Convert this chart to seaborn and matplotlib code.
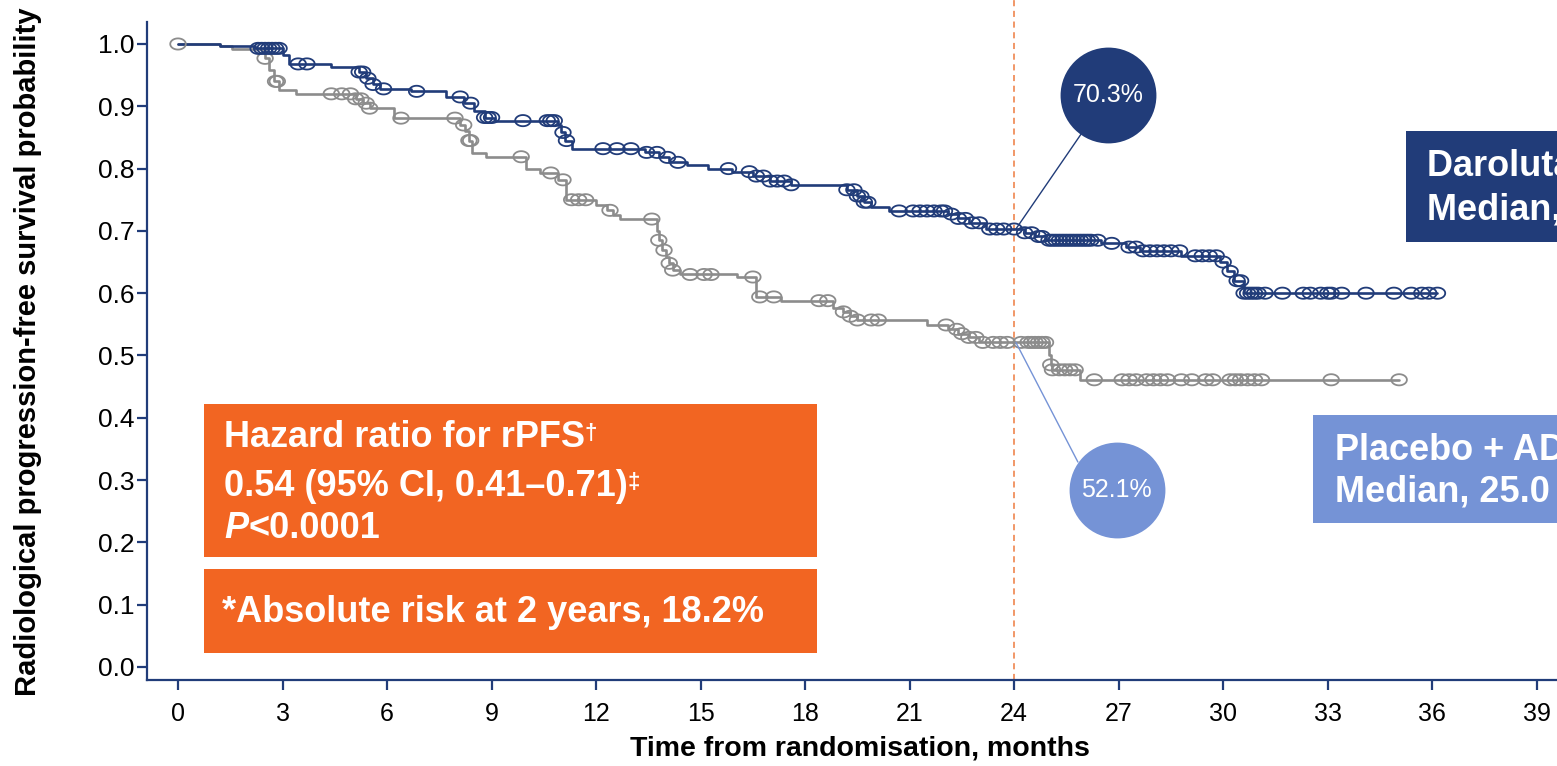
import numpy as np
import pandas as pd
import matplotlib
matplotlib.use("Agg")
import matplotlib.pyplot as plt
from matplotlib.path import Path
from matplotlib.patches import Rectangle
import seaborn as sns

# Darolutamide + ADT: step times and survival after each step
dar_times = [0, 1.2, 2.2, 3.0, 3.2, 4.4, 5.2, 5.4, 5.6, 5.8, 6.7, 7.7, 8.2, 8.5, 8.8, 9.1,
             10.9, 11.0, 11.1, 11.3, 13.4, 13.8, 14.1, 14.6, 15.2, 15.9, 16.5, 17.0, 17.6,
             19.2, 19.5, 19.7, 19.9, 20.4, 22.1, 22.4, 22.7, 23.2, 24.3, 24.6, 24.9, 26.5,
             27.2, 27.6, 28.8, 29.9, 30.1, 30.3, 30.6]
dar_surv = [1.0, 0.997, 0.993, 0.982, 0.968, 0.963, 0.955, 0.945, 0.935, 0.928, 0.924, 0.915,
            0.905, 0.893, 0.882, 0.877, 0.870, 0.858, 0.845, 0.832, 0.826, 0.818, 0.810, 0.805,
            0.800, 0.795, 0.788, 0.780, 0.774, 0.766, 0.756, 0.746, 0.738, 0.732, 0.727, 0.720,
            0.713, 0.703, 0.697, 0.691, 0.685, 0.680, 0.674, 0.668, 0.660, 0.650, 0.635, 0.620,
            0.600]
dar_censor = [2.3, 2.4, 2.5, 2.6, 2.7, 2.8, 2.9, 3.45, 3.7, 5.2, 5.3, 5.45, 5.6, 5.9, 6.85,
              8.1, 8.4, 8.8, 8.9, 9.0, 9.9, 10.6, 10.7, 10.8, 11.05, 11.15, 12.2, 12.6, 13.0,
              13.45, 13.75, 14.05, 14.35, 15.8, 16.4, 16.6, 16.8, 17.0, 17.2, 17.4, 17.6, 19.2,
              19.4, 19.5, 19.6, 19.7, 19.8, 20.7, 21.1, 21.3, 21.5, 21.7, 21.9, 22.0, 22.2,
              22.4, 22.6, 22.8, 23.0, 23.3, 23.5, 23.7, 24.0, 24.3, 24.5, 24.7, 24.8, 25.0,
              25.1, 25.2, 25.3, 25.4, 25.5, 25.6, 25.7, 25.8, 25.9, 26.0, 26.1, 26.2, 26.4,
              26.8, 27.3, 27.5, 27.7, 27.9, 28.1, 28.3, 28.5, 28.75, 29.2, 29.4, 29.6, 29.8,
              30.0, 30.2, 30.4, 30.5, 30.6, 30.7, 30.8, 30.9, 31.0, 31.2, 31.7, 32.3, 32.5,
              32.8, 33.0, 33.1, 33.4, 34.1, 34.9, 35.4, 35.7, 35.9, 36.15]

# Placebo + ADT
pla_times = [0, 1.2, 1.55, 2.5, 2.6, 2.75, 2.9, 3.4, 5.1, 5.3, 5.5, 6.2, 8.1, 8.25, 8.35,
             8.45, 8.85, 10.0, 10.4, 10.9, 11.15, 12.0, 12.3, 12.5, 12.7, 13.75, 13.8, 13.9,
             14.0, 14.1, 14.2, 14.4, 16.05, 16.6, 17.3, 18.8, 19.1, 19.3, 19.5, 21.5, 22.1,
             22.4, 22.7, 23.0, 25.0, 25.05, 25.1, 25.9]
pla_surv = [1.0, 0.997, 0.992, 0.977, 0.958, 0.940, 0.926, 0.920, 0.912, 0.905, 0.897, 0.881,
            0.870, 0.860, 0.845, 0.825, 0.819, 0.800, 0.793, 0.782, 0.750, 0.741, 0.733, 0.726,
            0.719, 0.700, 0.685, 0.669, 0.658, 0.648, 0.637, 0.630, 0.626, 0.594, 0.588, 0.576,
            0.570, 0.563, 0.557, 0.549, 0.542, 0.535, 0.529, 0.521, 0.500, 0.485, 0.477, 0.461]
pla_censor = [0, 2.5, 2.8, 2.85, 4.4, 4.7, 4.95, 5.1, 5.25, 5.4, 5.5, 6.4, 7.95, 8.2, 8.35,
              8.4, 9.85, 10.7, 11.05, 11.3, 11.5, 11.7, 12.4, 13.6, 13.8, 13.95, 14.1, 14.2,
              14.7, 15.1, 15.3, 16.5, 16.7, 17.1, 18.4, 18.65, 19.1, 19.3, 19.5, 19.9, 20.1,
              22.05, 22.35, 22.5, 22.7, 22.9, 23.1, 23.4, 23.6, 23.8, 24.2, 24.4, 24.5, 24.6,
              24.7, 24.8, 24.9, 25.05, 25.1, 25.3, 25.45, 25.6, 25.75, 26.3, 27.1, 27.3, 27.5,
              27.8, 28.0, 28.2, 28.4, 28.8, 29.1, 29.5, 29.7, 30.2, 30.35, 30.5, 30.7, 30.9,
              31.1, 33.1, 35.05]

x_ticks = list(range(0, 40, 3))
y_ticks = [i / 10 for i in range(11)]

navy = "#213C79"
grey = "#8C8C8C"
orange = "#F26522"
light_blue = "#7593D6"

sns.set_theme(style="white")
plt.rcParams["font.family"] = ["Liberation Sans", "DejaVu Sans"]
plt.rcParams["text.color"] = "black"

fig = plt.figure(figsize=(15.57, 7.66), dpi=100)
W, H = 1557, 766
ax = fig.add_axes([147 / W, 86 / H, (1589 - 147) / W, (680 - 22) / H])


def km_frame(times, surv, censor):
    end = max(max(censor), times[-1])
    curve = pd.DataFrame({"t": times + [end], "s": surv + [surv[-1]]})
    idx = np.searchsorted(np.array(times), np.array(censor), side="right") - 1
    marks = pd.DataFrame({"t": censor, "s": np.array(surv)[idx]})
    return curve, marks


# hollow ellipse marker for censoring
theta = np.linspace(0, 2 * np.pi, 60)
ellipse = Path(np.column_stack([np.cos(theta), 0.72 * np.sin(theta)]), closed=True)

for times, surv, censor, col in [(pla_times, pla_surv, pla_censor, grey),
                                  (dar_times, dar_surv, dar_censor, navy)]:
    curve, marks = km_frame(times, surv, censor)
    sns.lineplot(data=curve, x="t", y="s", drawstyle="steps-post", color=col,
                 linewidth=1.9, ax=ax, zorder=3)
    sns.scatterplot(data=marks, x="t", y="s", marker=ellipse, s=125, facecolor="none",
                    edgecolor=col, linewidth=1.3, ax=ax, zorder=4)

ax.set_xlim(-0.89, 40.5)
ax.set_ylim(-0.0209, 1.0353)
ax.set_xticks(x_ticks)
ax.set_yticks(y_ticks)
ax.set_yticklabels([f"{v:.1f}" for v in y_ticks], fontsize=19)
ax.set_xticklabels([str(v) for v in x_ticks], fontsize=18)
for side in ["top", "right"]:
    ax.spines[side].set_visible(False)
for side in ["left", "bottom"]:
    ax.spines[side].set_color(navy)
    ax.spines[side].set_linewidth(1.6)
ax.tick_params(axis="both", direction="out", length=7, width=1.6, color=navy,
               labelcolor="black", left=True, bottom=True)
ax.tick_params(axis="x", pad=9)
ax.tick_params(axis="y", pad=2)
ax.set_xlabel("")
ax.set_ylabel("")
fig.text(860 / W, 1 - 748 / H, "Time from randomisation, months", ha="center",
         va="center", fontsize=20.5, fontweight="bold", color="black")
fig.text(28 / W, 1 - 352 / H, "Radiological progression-free survival probability",
         ha="center", va="center", rotation=90, fontsize=21, fontweight="bold",
         color="black")

# 24-month reference
ax.axvline(24, ymin=0, ymax=1.035, color="#EE7A3E", linewidth=1.1,
           linestyle=(0, (4, 3)), clip_on=False, zorder=2)

# 2-year landmark callouts
ax.plot([24.05, 26.69], [0.703, 0.918], color=navy, linewidth=1.0, zorder=5)
ax.plot([24.05, 25.83], [0.521, 0.329], color=light_blue, linewidth=1.0, zorder=5)
ax.scatter([26.69], [0.918], s=69 ** 2, color=navy, zorder=6, linewidths=0)
ax.scatter([26.94], [0.284], s=69 ** 2, color=light_blue, zorder=6, linewidths=0)
ax.text(26.69, 0.918, "70.3%", color="white", fontsize=18, ha="center", va="center", zorder=7)
ax.text(26.94, 0.284, "52.1%", color="white", fontsize=18, ha="center", va="center", zorder=7)

# result boxes
ax.add_patch(Rectangle((0.75, 0.177), 17.59, 0.245, color=orange, lw=0, zorder=6))
ax.add_patch(Rectangle((0.75, 0.0225), 17.59, 0.1345, color=orange, lw=0, zorder=6))
bold = dict(color="white", fontsize=26, fontweight="bold", va="center", zorder=7)
t1 = ax.text(1.32, 0.3676, "Hazard ratio for rPFS", **bold)
ax.annotate("\u2020", xy=(1, 0.92), xycoords=t1, va="top", ha="left", color="white",
            fontsize=16, fontweight="bold", zorder=7)
t2 = ax.text(1.32, 0.289, "0.54 (95% CI, 0.41\u20130.71)", **bold)
ax.annotate("\u2021", xy=(1, 0.92), xycoords=t2, va="top", ha="left", color="white",
            fontsize=16, fontweight="bold", zorder=7)
t3 = ax.text(1.32, 0.223, "P", fontstyle="italic", **bold)
ax.annotate("<0.0001", xy=(1, 0), xycoords=t3, va="bottom", ha="left", color="white",
            fontsize=26, fontweight="bold", zorder=7)
ax.text(1.26, 0.088, "*Absolute risk at 2 years, 18.2%", **bold)

ax.add_patch(Rectangle((35.24, 0.682), 6.0, 0.178, color=navy, lw=0, zorder=6,
                       clip_on=False))
ax.text(35.84, 0.8026, "Darolutamide + ADT", **bold)
ax.text(35.84, 0.7335, "Median, NR", **bold)
ax.add_patch(Rectangle((32.57, 0.231), 9.0, 0.1735, color=light_blue, lw=0, zorder=6,
                       clip_on=False))
ax.text(33.2, 0.3467, "Placebo + ADT", **bold)
ax.text(33.2, 0.281, "Median, 25.0 months", **bold)

fig.savefig("out.png", dpi=100)
